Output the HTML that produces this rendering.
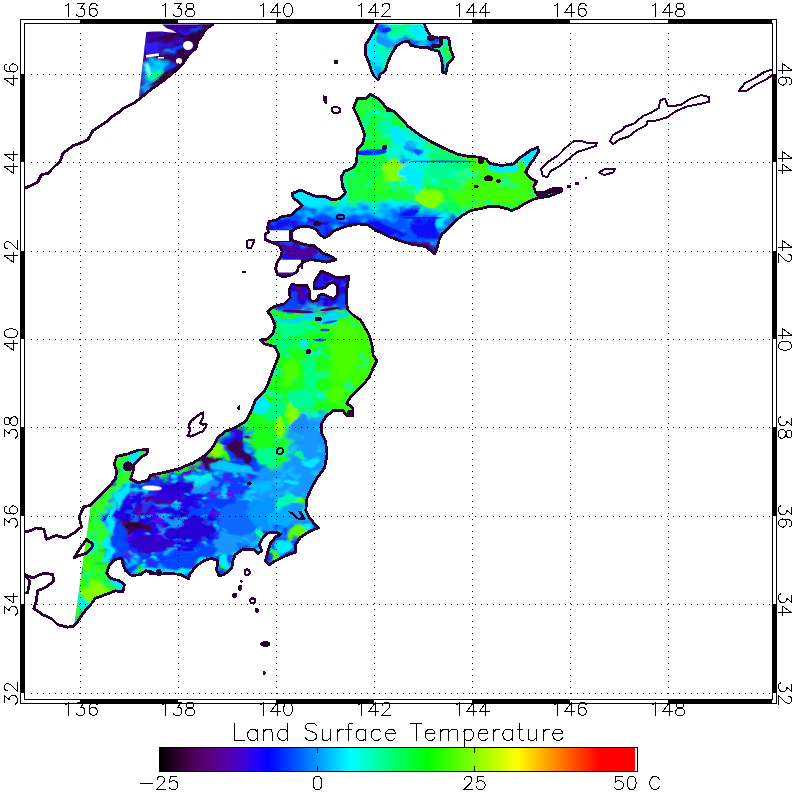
<!DOCTYPE html><html><head><meta charset="utf-8"><title>Land Surface Temperature</title>
<style>html,body{margin:0;padding:0;background:#fff;font-family:"Liberation Sans",sans-serif}svg{display:block}</style></head><body>
<svg width="796" height="796" viewBox="0 0 796 796">
<rect width="796" height="796" fill="#fff"/>
<defs>
<linearGradient id="cb" x1="0" y1="0" x2="1" y2="0">
<stop offset="0.0000" stop-color="#000000"/>
<stop offset="0.0314" stop-color="#240022"/>
<stop offset="0.0549" stop-color="#400044"/>
<stop offset="0.0824" stop-color="#500064"/>
<stop offset="0.1098" stop-color="#580084"/>
<stop offset="0.1333" stop-color="#5400a3"/>
<stop offset="0.1608" stop-color="#4700c3"/>
<stop offset="0.1843" stop-color="#3500e3"/>
<stop offset="0.2078" stop-color="#1900ff"/>
<stop offset="0.2275" stop-color="#0000ff"/>
<stop offset="0.3137" stop-color="#0080ff"/>
<stop offset="0.4000" stop-color="#00ffff"/>
<stop offset="0.4784" stop-color="#00ff83"/>
<stop offset="0.5608" stop-color="#00ff00"/>
<stop offset="0.6549" stop-color="#80ff00"/>
<stop offset="0.7490" stop-color="#ffff00"/>
<stop offset="0.8353" stop-color="#ff8000"/>
<stop offset="0.9216" stop-color="#ff0000"/>
<stop offset="0.9961" stop-color="#ff0000"/>
</linearGradient>
<filter id="bl8" x="-20%" y="-20%" width="140%" height="140%"><feGaussianBlur stdDeviation="3" result="b"/><feTurbulence type="fractalNoise" baseFrequency="0.06 0.09" numOctaves="2" seed="5" result="t"/><feDisplacementMap in="b" in2="t" scale="28" xChannelSelector="R" yChannelSelector="G"/></filter><filter id="bl4" x="-20%" y="-20%" width="140%" height="140%"><feGaussianBlur stdDeviation="1.3" result="b"/><feTurbulence type="fractalNoise" baseFrequency="0.06 0.09" numOctaves="2" seed="11" result="t"/><feDisplacementMap in="b" in2="t" scale="15" xChannelSelector="R" yChannelSelector="G"/></filter><filter id="bl2" x="-20%" y="-20%" width="140%" height="140%"><feGaussianBlur stdDeviation="0.7"/></filter><filter id="mot" x="0" y="0" width="100%" height="100%"><feTurbulence type="fractalNoise" baseFrequency="0.07 0.10" numOctaves="2" seed="7"/><feColorMatrix values="0 0 0 0 0  0 0 0 0 0.92  0 0 0 0 1  2.6 0 0 0 -1.35" result="m"/><feComposite in="m" in2="SourceGraphic" operator="in"/></filter><filter id="mot2" x="0" y="0" width="100%" height="100%"><feTurbulence type="fractalNoise" baseFrequency="0.06 0.10" numOctaves="2" seed="23"/><feColorMatrix values="0 0 0 0 0.2  0 0 0 0 0  0 0 0 0 0.8  0 3.0 0 0 -1.5" result="m"/><feComposite in="m" in2="SourceGraphic" operator="in"/></filter><filter id="mot3" x="0" y="0" width="100%" height="100%"><feTurbulence type="fractalNoise" baseFrequency="0.10 0.16" numOctaves="2" seed="41"/><feColorMatrix values="0 0 0 0 0  0 0 0 0 0.72  0 0 0 0 1  0 0 4.2 0 -2.33" result="m"/><feComposite in="m" in2="SourceGraphic" operator="in"/></filter><clipPath id="cp_hok"><path d="M370.6 94.4 L378.6 99.0 L386.7 108.0 L394.7 112.0 L400.8 118.0 L408.0 126.2 L420.0 135.2 L432.0 142.3 L444.0 148.3 L458.0 154.3 L468.0 156.3 L480.4 157.3 L486.4 159.3 L489.4 163.4 L500.5 165.4 L512.6 164.4 L520.6 157.3 L530.7 150.3 L537.7 147.3 L538.7 151.3 L533.7 159.3 L528.6 166.4 L525.6 172.4 L530.7 178.4 L536.7 181.5 L533.7 186.5 L535.7 192.5 L544.7 192.0 L552.8 188.5 L562.0 188.8 L562.0 191.0 L556.0 193.5 L548.7 196.5 L540.7 197.5 L532.7 199.5 L524.6 203.6 L518.6 207.6 L511.6 210.6 L506.5 208.6 L498.5 206.6 L488.4 206.6 L480.4 208.6 L470.4 210.6 L462.3 215.6 L454.3 221.7 L448.2 228.7 L442.2 233.7 L439.2 239.7 L437.2 247.7 L434.7 254.0 L425.9 246.5 L410.8 244.0 L398.2 240.2 L385.7 235.0 L375.6 230.0 L368.0 225.0 L358.0 223.9 L345.5 226.4 L333.0 231.4 L329.5 235.2 L324.6 237.7 L319.7 234.4 L316.5 229.5 L309.9 227.0 L301.8 226.2 L293.6 229.5 L291.1 233.6 L292.0 240.1 L298.5 242.6 L306.7 245.0 L314.0 245.8 L318.1 249.1 L323.0 253.2 L331.2 256.4 L336.0 259.7 L326.3 262.2 L318.1 260.5 L309.9 259.7 L303.4 262.2 L298.5 267.0 L296.9 272.0 L290.3 275.2 L283.0 276.9 L277.3 274.4 L275.6 268.7 L277.3 262.2 L280.5 257.3 L282.2 251.5 L278.9 245.0 L269.9 241.7 L265.0 239.3 L265.0 234.4 L268.3 232.0 L267.5 227.9 L269.1 221.3 L275.6 220.5 L282.2 216.4 L290.3 215.6 L296.9 209.9 L302.3 205.6 L293.2 197.5 L292.2 193.5 L300.3 190.0 L308.3 193.5 L316.3 196.5 L325.4 196.5 L332.4 200.0 L340.5 198.5 L345.5 192.5 L342.5 186.5 L341.5 176.4 L344.5 171.4 L353.5 167.4 L356.5 162.0 L357.5 149.0 L362.6 144.0 L364.6 135.0 L361.6 126.0 L357.5 116.0 L353.5 108.0 L357.5 98.0 L365.6 99.0Z"/></clipPath><clipPath id="cp_hon"><path d="M90.4 505.4 L97.9 497.8 L106.7 489.0 L115.5 479.0 L116.7 471.5 L114.2 464.0 L116.7 456.4 L128.0 453.9 L138.1 450.1 L148.1 449.6 L146.9 453.9 L140.6 457.6 L134.3 463.9 L133.0 471.5 L130.5 479.0 L138.0 482.8 L148.1 480.3 L150.6 475.2 L163.2 472.7 L178.3 469.0 L193.4 462.7 L205.9 455.0 L213.5 446.3 L217.8 437.7 L225.4 431.4 L235.4 427.6 L245.5 421.4 L250.5 412.6 L255.5 400.0 L264.0 392.0 L267.7 384.4 L271.5 374.3 L275.0 365.5 L279.0 355.5 L275.0 346.7 L265.0 344.0 L260.0 340.0 L267.7 339.0 L272.7 334.0 L275.2 325.3 L271.5 316.5 L267.7 311.5 L274.0 306.5 L284.0 304.0 L290.3 297.7 L289.0 290.0 L292.0 284.2 L298.5 285.8 L306.7 285.0 L309.1 290.0 L309.1 298.1 L312.4 301.4 L317.3 300.5 L318.9 295.6 L323.0 294.0 L329.5 297.3 L334.4 298.9 L337.7 294.0 L337.7 285.8 L334.4 282.6 L329.5 283.4 L324.6 287.5 L318.9 289.1 L314.0 288.3 L314.0 283.4 L317.3 276.9 L321.4 271.1 L329.5 274.4 L336.0 277.7 L342.6 277.7 L349.1 276.0 L347.5 283.4 L346.7 293.2 L346.7 303.0 L347.5 309.5 L353.0 315.0 L360.6 320.0 L365.7 329.0 L369.4 335.4 L372.0 345.4 L373.2 355.5 L377.0 360.5 L373.2 368.0 L369.4 376.8 L363.2 384.4 L356.9 390.6 L350.6 397.0 L346.8 403.2 L353.0 408.0 L353.0 415.8 L346.8 415.8 L343.0 410.7 L333.0 410.7 L325.5 417.0 L321.7 423.3 L321.7 433.4 L325.5 441.0 L327.1 454.0 L324.6 467.8 L317.1 477.9 L312.1 486.7 L307.0 498.0 L305.8 510.6 L309.5 518.0 L318.3 528.0 L310.8 530.7 L300.8 537.0 L295.7 544.5 L295.7 552.0 L285.7 555.8 L275.6 560.8 L269.3 564.6 L265.6 560.8 L268.1 550.8 L270.6 543.2 L275.6 537.0 L280.7 534.4 L275.6 532.0 L266.8 533.2 L261.8 539.4 L259.3 544.5 L261.8 550.8 L258.0 553.3 L254.3 549.5 L243.0 549.5 L235.4 554.5 L232.9 560.8 L231.7 568.3 L224.1 574.6 L219.1 575.9 L216.6 569.6 L217.8 560.8 L211.6 558.3 L204.0 560.8 L196.5 565.8 L190.2 573.4 L188.5 579.0 L180.8 574.5 L168.2 573.2 L158.2 574.5 L151.9 572.0 L145.6 570.7 L140.6 574.5 L131.8 575.7 L125.5 570.7 L123.0 564.4 L121.8 558.0 L115.5 559.4 L109.2 565.7 L106.7 573.2 L110.5 578.2 L119.2 580.8 L124.3 584.5 L123.0 592.0 L115.5 590.8 L105.4 594.6 L95.4 598.3 L91.6 603.4 L84.0 612.2 L79.0 619.7 L74.0 626.0 L90.4 508.0Z"/></clipPath><clipPath id="cp_sak"><path d="M377.3 24.4 L373.3 32.0 L369.3 39.0 L365.3 45.0 L365.3 54.0 L368.3 61.2 L371.3 70.3 L374.3 76.3 L378.0 80.0 L380.4 74.3 L385.4 70.3 L387.4 63.2 L391.4 54.2 L396.4 46.1 L402.5 42.1 L408.5 41.1 L410.5 45.1 L418.5 47.1 L426.6 47.1 L430.6 49.1 L438.6 51.2 L441.7 59.2 L442.7 72.3 L445.7 73.3 L447.7 64.2 L453.7 57.2 L450.7 50.2 L448.7 38.1 L443.7 37.1 L438.6 38.1 L430.6 36.1 L426.6 30.0 L424.6 24.4Z"/></clipPath><clipPath id="cp_sw"><path d="M146.3 32.0 L154.0 31.5 L162.0 31.5 L170.0 32.5 L177.0 33.0 L172.0 30.0 L167.0 28.5 L162.0 24.5 L213.0 24.5 L205.5 29.4 L202.7 35.0 L198.0 40.7 L196.0 48.3 L188.6 54.9 L183.0 63.3 L175.4 70.9 L164.0 80.3 L154.6 86.9 L147.0 92.5 L140.5 98.2 L139.0 96.0Z"/></clipPath>
</defs>
<g clip-path="url(#cp_sw)"><rect x="130" y="20" width="100" height="90" fill="#3a0096"/><g filter="url(#bl8)"><path d="M146.0 60.0 L172.0 60.0 L170.0 72.0 L160.0 84.0 L140.0 98.0 L138.0 95.0Z" fill="#00c8ff"/><path d="M146.0 36.0 L165.0 36.0 L166.0 52.0 L146.0 54.0Z" fill="#2d1ef5"/></g><g filter="url(#bl4)"><path d="M200.0 20.0 L215.0 20.0 L198.0 40.7 L196.0 48.3 L188.6 54.9 L183.0 63.3 L175.4 70.9 L164.0 80.3 L147.0 92.5 L140.0 98.0 L150.0 84.0 L160.0 75.0 L169.0 66.0 L176.0 57.0 L181.0 50.0 L187.0 43.0 L189.0 36.0 L194.0 28.0Z" fill="#30003e"/><ellipse cx="152" cy="75" rx="9" ry="4" fill="#00ff96" transform="rotate(-20 152 75)"/><ellipse cx="146" cy="70" rx="4" ry="6" fill="#78ffe6"/><ellipse cx="170" cy="49.5" rx="8" ry="2" fill="#1696ff" transform="rotate(-5 170 49.5)"/><ellipse cx="178" cy="47" rx="8" ry="2.5" fill="#0046ff" transform="rotate(-10 178 47)"/><ellipse cx="170" cy="67" rx="8" ry="3" fill="#0046ff" transform="rotate(-30 170 67)"/><ellipse cx="157" cy="88" rx="9" ry="3.5" fill="#0046ff" transform="rotate(-38 157 88)"/><ellipse cx="176" cy="37" rx="20" ry="2.8" fill="#320046"/><ellipse cx="170" cy="58" rx="16" ry="2.8" fill="#320046" transform="rotate(5 170 58)"/><ellipse cx="196" cy="29" rx="7" ry="2.5" fill="#0046ff" transform="rotate(-25 196 29)"/><ellipse cx="158" cy="41" rx="9" ry="2.5" fill="#3c0078"/><ellipse cx="146" cy="88" rx="4" ry="6" fill="#1696ff"/><ellipse cx="185" cy="33" rx="6" ry="2" fill="#2814f0" transform="rotate(-10 185 33)"/></g><ellipse cx="188" cy="45.5" rx="5" ry="4.5" fill="#fff"/><ellipse cx="179" cy="61" rx="3" ry="3" fill="#fff"/><rect x="146" y="54.5" width="13" height="2.5" fill="#fff" transform="rotate(-8 150 56)"/><rect x="158" y="57" width="6" height="1.5" fill="#fff"/></g><g clip-path="url(#cp_sak)"><rect x="360" y="20" width="100" height="70" fill="#00ffaa"/><g filter="url(#bl4)"><ellipse cx="382" cy="28" rx="8" ry="7" fill="#0a28ff"/><ellipse cx="386" cy="40" rx="8" ry="8" fill="#1696ff"/><ellipse cx="372" cy="50" rx="6" ry="12" fill="#00ebff"/><ellipse cx="376" cy="68" rx="5" ry="8" fill="#00aaff"/><ellipse cx="379" cy="76" rx="3" ry="3" fill="#0046ff"/><ellipse cx="412" cy="43" rx="18" ry="3.5" fill="#005aff" transform="rotate(10 412 43)"/><ellipse cx="398" cy="44" rx="5" ry="6" fill="#1696ff" transform="rotate(40 398 44)"/><ellipse cx="432" cy="43" rx="6" ry="5" fill="#0046ff"/><ellipse cx="378" cy="60" rx="5" ry="6" fill="#00ebff"/><ellipse cx="448" cy="52" rx="3.5" ry="10" fill="#1eff3c"/><ellipse cx="443" cy="62" rx="2.2" ry="7" fill="#1696ff"/><ellipse cx="400" cy="31" rx="14" ry="6" fill="#00ff8c"/><ellipse cx="420" cy="32" rx="8" ry="6" fill="#00ebff"/></g><rect x="360" y="20" width="100" height="70" filter="url(#mot)"/></g><g clip-path="url(#cp_hok)"><rect x="260" y="90" width="310" height="190" fill="#00ff5a"/><g filter="url(#bl8)"><path d="M340.0 90.0 L420.0 120.0 L545.0 150.0 L545.0 200.0 L470.0 214.0 L440.0 206.0 L400.0 202.0 L350.0 206.0 L340.0 200.0 L335.0 170.0Z" fill="#19ff37"/><path d="M455.0 150.0 L545.0 140.0 L545.0 200.0 L520.0 210.0 L470.0 212.0 L455.0 190.0Z" fill="#41ff05"/><ellipse cx="408" cy="152" rx="20" ry="26" fill="#00fabe"/><ellipse cx="412" cy="165" rx="14" ry="24" fill="#00f5eb"/><ellipse cx="445" cy="172" rx="26" ry="10" fill="#00ff96" transform="rotate(5 445 172)"/><path d="M285.0 185.0 L345.0 190.0 L345.0 206.0 L300.0 212.0 L285.0 205.0Z" fill="#00ebff"/><path d="M260.0 212.0 L300.0 206.0 L345.0 209.0 L400.0 206.0 L445.0 212.0 L455.0 222.0 L440.0 260.0 L330.0 262.0 L260.0 262.0Z" fill="#0055ff"/><path d="M330.0 206.0 L400.0 204.0 L445.0 209.0 L445.0 214.0 L400.0 212.0 L330.0 213.0Z" fill="#00c8ff"/><path d="M255.0 225.0 L330.0 222.0 L345.0 265.0 L255.0 285.0Z" fill="#1e0aeb"/></g><rect x="260" y="90" width="310" height="190" filter="url(#mot)"/><g filter="url(#bl4)"><ellipse cx="396" cy="169" rx="15" ry="10" fill="#82ff00"/><ellipse cx="430" cy="198" rx="16" ry="9" fill="#82ff00"/><ellipse cx="412" cy="148" rx="6" ry="5" fill="#1696ff"/><ellipse cx="402" cy="160" rx="5" ry="4" fill="#1696ff"/><ellipse cx="418" cy="151" rx="5" ry="3" fill="#0046ff"/><ellipse cx="408" cy="172" rx="7" ry="9" fill="#00ebff"/><ellipse cx="404" cy="140" rx="5" ry="8" fill="#00ebff"/><ellipse cx="395" cy="135" rx="6" ry="8" fill="#00ebff"/><ellipse cx="420" cy="130" rx="8" ry="5" fill="#00ebff" transform="rotate(20 420 130)"/><ellipse cx="385" cy="125" rx="6" ry="8" fill="#00faa0"/><ellipse cx="530" cy="156" rx="8" ry="10" fill="#00ebff" transform="rotate(-40 530 156)"/><ellipse cx="505" cy="168" rx="14" ry="4" fill="#00ebff"/><ellipse cx="416" cy="178" rx="9" ry="8" fill="#00ebff"/><ellipse cx="440" cy="170" rx="12" ry="6" fill="#00fa96"/><ellipse cx="380" cy="185" rx="10" ry="10" fill="#28ff28"/><ellipse cx="410" cy="212" rx="10" ry="5" fill="#0c0ff8"/><ellipse cx="425" cy="228" rx="16" ry="10" fill="#0c0ff8"/><ellipse cx="420" cy="246" rx="22" ry="3.5" fill="#500096" transform="rotate(8 420 246)"/><ellipse cx="385" cy="230" rx="20" ry="5" fill="#0c0ff8" transform="rotate(12 385 230)"/><ellipse cx="355" cy="224" rx="15" ry="3" fill="#0c0ff8"/><ellipse cx="318" cy="223" rx="10" ry="3" fill="#2d00de"/><ellipse cx="300" cy="234" rx="26" ry="7" fill="#0046ff" transform="rotate(-14 300 234)"/><ellipse cx="283" cy="224" rx="12" ry="5" fill="#0c0ff8" transform="rotate(-20 283 224)"/><ellipse cx="298" cy="251" rx="20" ry="6" fill="#500096" transform="rotate(18 298 251)"/><ellipse cx="325" cy="258" rx="10" ry="4" fill="#0046ff" transform="rotate(15 325 258)"/><ellipse cx="283" cy="270" rx="10" ry="8" fill="#500096"/><ellipse cx="272" cy="244" rx="6" ry="3" fill="#500096"/><ellipse cx="443" cy="222" rx="5" ry="8" fill="#00ebff" transform="rotate(20 443 222)"/><ellipse cx="306" cy="196" rx="8" ry="4" fill="#00ebff"/><ellipse cx="340" cy="185" rx="6" ry="10" fill="#00ff8c"/><ellipse cx="365" cy="105" rx="8" ry="8" fill="#28ff3c"/><ellipse cx="450" cy="160" rx="20" ry="6" fill="#00fa78" transform="rotate(15 450 160)"/><ellipse cx="335" cy="201" rx="8" ry="4" fill="#1eff14"/></g><g filter="url(#bl2)"><ellipse cx="422" cy="217.8" rx="22" ry="0.9" fill="#0c0ff8"/><ellipse cx="443" cy="161.4" rx="33" ry="0.8" fill="#0046ff"/><ellipse cx="372" cy="152.3" rx="15" ry="3.2" fill="#0064ff" transform="rotate(-3 372 152.3)"/><ellipse cx="365" cy="153" rx="8" ry="2.2" fill="#0528fa" transform="rotate(-3 365 153)"/><ellipse cx="380" cy="151.5" rx="6" ry="2" fill="#0532fa" transform="rotate(-3 380 151.5)"/></g><rect x="266.6" y="230.3" width="23" height="11.4" fill="#fff"/><path d="M277.3 259.7H301.8V269L296 272.5H277.3Z" fill="#fff"/></g><g clip-path="url(#cp_hon)"><rect x="60" y="265" width="330" height="370" fill="#083cfc"/><g filter="url(#bl8)"><path d="M255.0 313.0 L380.0 306.0 L385.0 420.0 L325.0 420.0 L305.0 414.0 L291.0 435.0 L289.0 464.0 L262.0 467.0 L250.0 448.0 L240.0 430.0 L222.0 442.0 L208.0 455.0 L212.0 440.0 L235.0 420.0 L250.0 395.0Z" fill="#1eff14"/><path d="M330.0 318.0 L385.0 318.0 L385.0 400.0 L345.0 408.0 L330.0 380.0Z" fill="#3cff05"/><path d="M305.0 414.0 L326.0 418.0 L332.0 470.0 L314.0 520.0 L322.0 532.0 L300.0 540.0 L280.0 530.0 L262.0 530.0 L250.0 548.0 L232.0 552.0 L214.0 556.0 L220.0 535.0 L245.0 500.0 L262.0 470.0 L289.0 464.0 L291.0 435.0Z" fill="#1696ff"/><path d="M86.0 500.0 L100.0 490.0 L116.0 478.0 L112.0 452.0 L152.0 446.0 L150.0 456.0 L137.0 470.0 L131.0 483.0 L119.0 498.0 L112.0 520.0 L107.0 545.0 L105.0 560.0 L112.0 576.0 L128.0 592.0 L100.0 602.0 L70.0 632.0 L68.0 625.0Z" fill="#2dff1e"/><path d="M280.0 265.0 L355.0 265.0 L352.0 309.0 L268.0 313.0Z" fill="#2800d7"/><ellipse cx="160" cy="520" rx="55" ry="35" fill="#1a04e8"/></g><rect x="60" y="265" width="330" height="370" filter="url(#mot)"/><path d="M118 490L150 478L215 452L235 440L255 470L240 500L215 540L205 560L130 565L112 540Z" filter="url(#mot2)"/><path d="M112 490L150 478L215 452L250 470L262 500L240 545L205 562L130 567L108 540Z" filter="url(#mot3)"/><g filter="url(#bl4)"><ellipse cx="312" cy="318" rx="40" ry="4" fill="#00d7ff" transform="rotate(-4 312 318)"/><ellipse cx="295" cy="330" rx="22" ry="6" fill="#00ff8c"/><ellipse cx="311" cy="380" rx="6" ry="24" fill="#00ff82"/><ellipse cx="304" cy="344" rx="5" ry="2.5" fill="#00f0e6"/><ellipse cx="285" cy="345" rx="8" ry="10" fill="#00fa78"/><ellipse cx="300" cy="400" rx="12" ry="10" fill="#00fa96"/><ellipse cx="345" cy="350" rx="14" ry="25" fill="#46ff00"/><ellipse cx="335" cy="395" rx="10" ry="8" fill="#46ff00"/><ellipse cx="290" cy="372" rx="8" ry="14" fill="#46ff00"/><ellipse cx="292" cy="414" rx="6" ry="10" fill="#82ff00"/><ellipse cx="275" cy="412" rx="10" ry="12" fill="#00fa82"/><ellipse cx="260" cy="405" rx="8" ry="10" fill="#00ebff"/><ellipse cx="262" cy="440" rx="10" ry="10" fill="#1eff14"/><ellipse cx="270" cy="455" rx="12" ry="8" fill="#00ff8c"/><ellipse cx="280" cy="428" rx="5" ry="8" fill="#82ff00"/><ellipse cx="234.5" cy="445.5" rx="13" ry="6.5" fill="#3e0050" transform="rotate(48 234.5 445.5)"/><ellipse cx="247" cy="459" rx="7.5" ry="4.5" fill="#3e0050" transform="rotate(52 247 459)"/><ellipse cx="248.5" cy="439.5" rx="5" ry="2.5" fill="#500096" transform="rotate(20 248.5 439.5)"/><ellipse cx="208.5" cy="462.5" rx="8.5" ry="4.5" fill="#3e0050" transform="rotate(15 208.5 462.5)"/><ellipse cx="218" cy="451" rx="8" ry="7" fill="#82ff00" transform="rotate(-30 218 451)"/><ellipse cx="222" cy="458" rx="5" ry="3" fill="#1eff14"/><ellipse cx="246" cy="434" rx="12" ry="3.5" fill="#00aaff" transform="rotate(-15 246 434)"/><ellipse cx="232" cy="433" rx="5" ry="2.5" fill="#0046ff" transform="rotate(-15 232 433)"/><ellipse cx="226" cy="440" rx="5" ry="5" fill="#1414f0"/><ellipse cx="186" cy="468.5" rx="14" ry="2.5" fill="#1eff14" transform="rotate(-14 186 468.5)"/><ellipse cx="159" cy="476" rx="9" ry="5" fill="#1eff14" transform="rotate(-15 159 476)"/><ellipse cx="187" cy="478" rx="4" ry="2.5" fill="#1eff14"/><ellipse cx="206" cy="475" rx="4" ry="2.5" fill="#1eff14"/><ellipse cx="195" cy="487" rx="5" ry="4" fill="#5aff14"/><ellipse cx="200" cy="480" rx="14" ry="6" fill="#00ebff"/><ellipse cx="232" cy="468" rx="22" ry="5" fill="#00c8ff" transform="rotate(5 232 468)"/><ellipse cx="192" cy="470" rx="8" ry="1.8" fill="#500096" transform="rotate(-12 192 470)"/><ellipse cx="246" cy="501" rx="9" ry="3" fill="#00ebff"/><ellipse cx="246.5" cy="503" rx="3" ry="2" fill="#1eff14"/><ellipse cx="169" cy="520" rx="5" ry="2.5" fill="#00ebff"/><ellipse cx="185" cy="519" rx="4" ry="1.5" fill="#00ebff"/><ellipse cx="205" cy="522" rx="4" ry="1.5" fill="#00ebff"/><ellipse cx="164" cy="497" rx="14" ry="6" fill="#3c0087"/><ellipse cx="135.6" cy="526.7" rx="17" ry="5.5" fill="#3e0050" transform="rotate(3 135.6 526.7)"/><ellipse cx="133" cy="526" rx="8" ry="2" fill="#23002d"/><ellipse cx="158" cy="499" rx="15" ry="6" fill="#460096" transform="rotate(10 158 499)"/><ellipse cx="143" cy="508" rx="10" ry="4" fill="#4600aa"/><ellipse cx="210" cy="459" rx="10" ry="4" fill="#3e0050" transform="rotate(25 210 459)"/><ellipse cx="157" cy="478" rx="7" ry="3" fill="#500096" transform="rotate(20 157 478)"/><ellipse cx="176" cy="497" rx="6" ry="5" fill="#500096"/><ellipse cx="178" cy="488" rx="18" ry="7" fill="#2300d7" transform="rotate(-5 178 488)"/><ellipse cx="165" cy="495" rx="14" ry="6" fill="#2d00de"/><ellipse cx="153" cy="544" rx="22" ry="8" fill="#3200c8"/><ellipse cx="190" cy="530" rx="25" ry="10" fill="#2800d7" transform="rotate(-5 190 530)"/><ellipse cx="120" cy="540" rx="8" ry="18" fill="#0046ff"/><ellipse cx="168" cy="519" rx="13" ry="3" fill="#1696ff" transform="rotate(10 168 519)"/><ellipse cx="169" cy="555" rx="7" ry="4" fill="#00ebff"/><ellipse cx="206" cy="487" rx="14" ry="4" fill="#1696ff" transform="rotate(-25 206 487)"/><ellipse cx="150" cy="505" rx="6" ry="3" fill="#0046ff"/><ellipse cx="200" cy="512" rx="14" ry="5" fill="#0046ff" transform="rotate(-20 200 512)"/><ellipse cx="240" cy="518" rx="22" ry="18" fill="#0a69ff"/><ellipse cx="262" cy="512" rx="14" ry="14" fill="#0596ff"/><ellipse cx="280" cy="520" rx="12" ry="10" fill="#00afff"/><ellipse cx="262" cy="548" rx="6" ry="4" fill="#00ebff"/><ellipse cx="225" cy="545" rx="12" ry="8" fill="#1696ff" transform="rotate(-30 225 545)"/><ellipse cx="205" cy="550" rx="12" ry="6" fill="#0046ff"/><ellipse cx="180" cy="560" rx="20" ry="8" fill="#0046ff"/><ellipse cx="132" cy="463" rx="8" ry="10" fill="#00ebff"/><ellipse cx="124" cy="457" rx="7" ry="4" fill="#1eff14"/><ellipse cx="142" cy="452" rx="6" ry="3" fill="#1eff14"/><ellipse cx="122" cy="495" rx="5" ry="14" fill="#00ebff" transform="rotate(25 122 495)"/><ellipse cx="110" cy="520" rx="4" ry="16" fill="#00ebff" transform="rotate(8 110 520)"/><ellipse cx="107" cy="550" rx="4" ry="12" fill="#00ebff"/><ellipse cx="118" cy="578" rx="6" ry="14" fill="#00ebff" transform="rotate(-20 118 578)"/><ellipse cx="95" cy="592" rx="12" ry="10" fill="#82ff00"/><ellipse cx="84" cy="545" rx="5" ry="30" fill="#46ff00" transform="rotate(-8 84 545)"/><ellipse cx="100" cy="480" rx="5" ry="10" fill="#46ff00" transform="rotate(40 100 480)"/><ellipse cx="160" cy="572" rx="32" ry="3.5" fill="#00ebff"/><ellipse cx="170" cy="575.5" rx="12" ry="2" fill="#00ff64"/><ellipse cx="140" cy="572" rx="6" ry="3" fill="#1eff14"/><ellipse cx="205" cy="561" rx="10" ry="4" fill="#00ebff" transform="rotate(-30 205 561)"/><ellipse cx="225" cy="564" rx="7" ry="10" fill="#00ebff"/><ellipse cx="222" cy="570" rx="3" ry="4" fill="#1eff14"/><ellipse cx="244" cy="553" rx="12" ry="3.5" fill="#00ebff"/><ellipse cx="285" cy="547" rx="10" ry="7" fill="#00ebff" transform="rotate(-30 285 547)"/><ellipse cx="301" cy="530.5" rx="14" ry="3.5" fill="#5aff00" transform="rotate(-38 301 530.5)"/><ellipse cx="297" cy="500.5" rx="8" ry="5.5" fill="#46ff00" transform="rotate(-15 297 500.5)"/><ellipse cx="287" cy="500" rx="12" ry="8" fill="#00fab4"/><ellipse cx="273" cy="556" rx="4.5" ry="6" fill="#3cff14"/><ellipse cx="270" cy="545" rx="3" ry="6" fill="#00ebff"/><ellipse cx="258" cy="535" rx="6" ry="5" fill="#00ffaa"/><ellipse cx="308" cy="524" rx="5" ry="3" fill="#00ebff" transform="rotate(-30 308 524)"/><ellipse cx="298" cy="454" rx="6" ry="4" fill="#00fa96"/><ellipse cx="311" cy="461" rx="10" ry="3.5" fill="#00ebff"/><ellipse cx="292" cy="483" rx="9" ry="3" fill="#00ebff"/><ellipse cx="262" cy="487" rx="12" ry="4" fill="#00beff"/><ellipse cx="310" cy="440" rx="8" ry="14" fill="#1996ff"/><ellipse cx="300" cy="425" rx="8" ry="8" fill="#148cff"/><ellipse cx="92" cy="611" rx="5" ry="13" fill="#00ebff" transform="rotate(-32 92 611)"/><ellipse cx="84" cy="619" rx="3.5" ry="8" fill="#1696ff" transform="rotate(-32 84 619)"/><ellipse cx="80" cy="600" rx="3" ry="10" fill="#00ebff" transform="rotate(-8 80 600)"/><ellipse cx="285" cy="300" rx="12" ry="9" fill="#0046ff"/><ellipse cx="330" cy="277" rx="12" ry="5" fill="#2d00de"/><ellipse cx="341" cy="300" rx="4" ry="8" fill="#0046ff"/><ellipse cx="300" cy="292" rx="6" ry="6" fill="#500096"/><ellipse cx="318" cy="283" rx="4" ry="8" fill="#1e14eb" transform="rotate(30 318 283)"/><ellipse cx="238" cy="436" rx="6" ry="8" fill="#2d00de"/></g><g filter="url(#bl2)"><ellipse cx="298" cy="311.5" rx="16" ry="1.6" fill="#460078" transform="rotate(3 298 311.5)"/><ellipse cx="330" cy="309" rx="10" ry="1.4" fill="#460078" transform="rotate(-8 330 309)"/><ellipse cx="152" cy="488" rx="10" ry="2.5" fill="#ffffff" transform="rotate(3 152 488)"/><ellipse cx="320" cy="340" rx="6" ry="1.5" fill="#0046ff"/><ellipse cx="325" cy="330" rx="5" ry="1.2" fill="#0046ff"/><ellipse cx="330" cy="322" rx="8" ry="1.2" fill="#0046ff" transform="rotate(-10 330 322)"/></g></g><g fill="none" stroke="#2b0033" stroke-width="2.8" stroke-linejoin="round" stroke-linecap="round" shape-rendering="crispEdges"><path d="M213.0 24.5 L205.5 29.4 L202.7 35.0 L198.0 40.7 L196.0 48.3 L188.6 54.9 L183.0 63.3 L175.4 70.9 L164.0 80.3 L154.6 86.9 L147.0 92.5 L140.5 98.2 L134.0 103.0 L124.5 107.6 L118.8 112.3 L111.3 117.0 L108.0 120.6 L100.5 125.6 L93.0 130.7 L88.0 139.4 L80.4 143.2 L73.0 145.7 L62.8 153.3 L60.3 160.8 L54.0 167.0 L47.7 173.4 L41.5 174.6 L37.7 182.2 L30.0 186.0 L25.0 188.0"/><path d="M377.3 24.4 L373.3 32.0 L369.3 39.0 L365.3 45.0 L365.3 54.0 L368.3 61.2 L371.3 70.3 L374.3 76.3 L378.0 80.0 L380.4 74.3 L385.4 70.3 L387.4 63.2 L391.4 54.2 L396.4 46.1 L402.5 42.1 L408.5 41.1 L410.5 45.1 L418.5 47.1 L426.6 47.1 L430.6 49.1 L438.6 51.2 L441.7 59.2 L442.7 72.3 L445.7 73.3 L447.7 64.2 L453.7 57.2 L450.7 50.2 L448.7 38.1 L443.7 37.1 L438.6 38.1 L430.6 36.1 L426.6 30.0 L424.6 24.4"/><path d="M370.6 94.4 L378.6 99.0 L386.7 108.0 L394.7 112.0 L400.8 118.0 L408.0 126.2 L420.0 135.2 L432.0 142.3 L444.0 148.3 L458.0 154.3 L468.0 156.3 L480.4 157.3 L486.4 159.3 L489.4 163.4 L500.5 165.4 L512.6 164.4 L520.6 157.3 L530.7 150.3 L537.7 147.3 L538.7 151.3 L533.7 159.3 L528.6 166.4 L525.6 172.4 L530.7 178.4 L536.7 181.5 L533.7 186.5 L535.7 192.5 L544.7 192.0 L552.8 188.5 L562.0 188.8 L562.0 191.0 L556.0 193.5 L548.7 196.5 L540.7 197.5 L532.7 199.5 L524.6 203.6 L518.6 207.6 L511.6 210.6 L506.5 208.6 L498.5 206.6 L488.4 206.6 L480.4 208.6 L470.4 210.6 L462.3 215.6 L454.3 221.7 L448.2 228.7 L442.2 233.7 L439.2 239.7 L437.2 247.7 L434.7 254.0 L425.9 246.5 L410.8 244.0 L398.2 240.2 L385.7 235.0 L375.6 230.0 L368.0 225.0 L358.0 223.9 L345.5 226.4 L333.0 231.4 L329.5 235.2 L324.6 237.7 L319.7 234.4 L316.5 229.5 L309.9 227.0 L301.8 226.2 L293.6 229.5 L291.1 233.6 L292.0 240.1 L298.5 242.6 L306.7 245.0 L314.0 245.8 L318.1 249.1 L323.0 253.2 L331.2 256.4 L336.0 259.7 L326.3 262.2 L318.1 260.5 L309.9 259.7 L303.4 262.2 L298.5 267.0 L296.9 272.0 L290.3 275.2 L283.0 276.9 L277.3 274.4 L275.6 268.7 L277.3 262.2 L280.5 257.3 L282.2 251.5 L278.9 245.0 L269.9 241.7 L265.0 239.3 L265.0 234.4 L268.3 232.0 L267.5 227.9 L269.1 221.3 L275.6 220.5 L282.2 216.4 L290.3 215.6 L296.9 209.9 L302.3 205.6 L293.2 197.5 L292.2 193.5 L300.3 190.0 L308.3 193.5 L316.3 196.5 L325.4 196.5 L332.4 200.0 L340.5 198.5 L345.5 192.5 L342.5 186.5 L341.5 176.4 L344.5 171.4 L353.5 167.4 L356.5 162.0 L357.5 149.0 L362.6 144.0 L364.6 135.0 L361.6 126.0 L357.5 116.0 L353.5 108.0 L357.5 98.0 L365.6 99.0Z"/><path d="M90.4 505.4 L97.9 497.8 L106.7 489.0 L115.5 479.0 L116.7 471.5 L114.2 464.0 L116.7 456.4 L128.0 453.9 L138.1 450.1 L148.1 449.6 L146.9 453.9 L140.6 457.6 L134.3 463.9 L133.0 471.5 L130.5 479.0 L138.0 482.8 L148.1 480.3 L150.6 475.2 L163.2 472.7 L178.3 469.0 L193.4 462.7 L205.9 455.0 L213.5 446.3 L217.8 437.7 L225.4 431.4 L235.4 427.6 L245.5 421.4 L250.5 412.6 L255.5 400.0 L264.0 392.0 L267.7 384.4 L271.5 374.3 L275.0 365.5 L279.0 355.5 L275.0 346.7 L265.0 344.0 L260.0 340.0 L267.7 339.0 L272.7 334.0 L275.2 325.3 L271.5 316.5 L267.7 311.5 L274.0 306.5 L284.0 304.0 L290.3 297.7 L289.0 290.0 L292.0 284.2 L298.5 285.8 L306.7 285.0 L309.1 290.0 L309.1 298.1 L312.4 301.4 L317.3 300.5 L318.9 295.6 L323.0 294.0 L329.5 297.3 L334.4 298.9 L337.7 294.0 L337.7 285.8 L334.4 282.6 L329.5 283.4 L324.6 287.5 L318.9 289.1 L314.0 288.3 L314.0 283.4 L317.3 276.9 L321.4 271.1 L329.5 274.4 L336.0 277.7 L342.6 277.7 L349.1 276.0 L347.5 283.4 L346.7 293.2 L346.7 303.0 L347.5 309.5 L353.0 315.0 L360.6 320.0 L365.7 329.0 L369.4 335.4 L372.0 345.4 L373.2 355.5 L377.0 360.5 L373.2 368.0 L369.4 376.8 L363.2 384.4 L356.9 390.6 L350.6 397.0 L346.8 403.2 L353.0 408.0 L353.0 415.8 L346.8 415.8 L343.0 410.7 L333.0 410.7 L325.5 417.0 L321.7 423.3 L321.7 433.4 L325.5 441.0 L327.1 454.0 L324.6 467.8 L317.1 477.9 L312.1 486.7 L307.0 498.0 L305.8 510.6 L309.5 518.0 L318.3 528.0 L310.8 530.7 L300.8 537.0 L295.7 544.5 L295.7 552.0 L285.7 555.8 L275.6 560.8 L269.3 564.6 L265.6 560.8 L268.1 550.8 L270.6 543.2 L275.6 537.0 L280.7 534.4 L275.6 532.0 L266.8 533.2 L261.8 539.4 L259.3 544.5 L261.8 550.8 L258.0 553.3 L254.3 549.5 L243.0 549.5 L235.4 554.5 L232.9 560.8 L231.7 568.3 L224.1 574.6 L219.1 575.9 L216.6 569.6 L217.8 560.8 L211.6 558.3 L204.0 560.8 L196.5 565.8 L190.2 573.4 L188.5 579.0 L180.8 574.5 L168.2 573.2 L158.2 574.5 L151.9 572.0 L145.6 570.7 L140.6 574.5 L131.8 575.7 L125.5 570.7 L123.0 564.4 L121.8 558.0 L115.5 559.4 L109.2 565.7 L106.7 573.2 L110.5 578.2 L119.2 580.8 L124.3 584.5 L123.0 592.0 L115.5 590.8 L105.4 594.6 L95.4 598.3 L91.6 603.4 L84.0 612.2 L79.0 619.7 L74.0 626.0"/><path d="M290 231V241.5H267" stroke-width="1.6"/><path d="M302 260V268" stroke-width="1.6"/></g><g fill="none" stroke="#2b0033" stroke-width="2.0" stroke-linejoin="round" stroke-linecap="round" shape-rendering="crispEdges"><path d="M90.4 505.4 L84.0 506.6 L79.0 516.7 L81.6 526.7 L74.0 533.0 L65.2 538.0 L56.4 535.5 L46.4 539.3 L43.9 529.2 L36.3 528.0 L27.5 531.8 L25.0 531.8" stroke-width="2.8"/><path d="M25.0 574.5 L32.6 578.0 L43.9 573.0 L52.7 574.5 L53.9 580.8 L46.4 587.0 L37.6 590.8 L36.3 600.9 L33.8 608.4 L42.6 614.7 L51.4 618.4 L57.7 624.7 L67.7 627.2 L74.0 626.0" stroke-width="2.8"/><path d="M25.0 576.0 L30.0 581.0 L27.5 593.0 L25.0 593.0" stroke-width="2.8"/><path d="M92.9 544.3 L86.6 539.3 L80.3 548.0 L74.0 558.0 L79.0 555.6 L86.6 553.0 L92.9 546.0" stroke-width="2.8"/><path d="M203.3 412.6 L200.2 413.8 L195.1 417.6 L190.7 421.4 L188.8 425.8 L190.1 429.5 L188.8 434.0 L187.6 435.8 L190.7 436.5 L195.1 434.6 L198.9 432.7 L202.7 431.4 L205.8 427.0 L206.4 423.9 L202.7 424.5 L200.2 423.3 L202.7 418.2Z" stroke-width="2.4"/><path d="M541.0 169.3 L548.8 161.5 L558.3 155.2 L566.0 147.4 L574.0 141.0 L581.8 141.0 L588.0 143.3 L596.9 142.7 L596.0 145.8 L586.5 149.0 L577.0 152.0 L569.3 158.4 L559.8 166.2 L550.4 171.0 L547.3 177.2 L542.6 175.6Z"/><path d="M599.0 172.5 L605.4 168.7 L614.8 168.7 L613.2 172.5 L603.8 175.0Z"/><path d="M610.0 141.0 L613.2 134.8 L622.6 130.0 L624.2 127.0 L633.6 123.8 L643.0 116.0 L651.0 112.8 L658.8 108.0 L660.3 100.3 L665.0 98.7 L668.2 106.5 L680.8 105.0 L690.2 98.7 L701.2 95.0 L709.0 97.0 L709.0 101.8 L699.6 104.0 L687.0 106.5 L676.0 111.2 L666.6 117.5 L655.6 120.7 L647.8 120.7 L646.2 125.4 L636.8 130.0 L629.0 136.4 L619.5 139.5 L613.2 144.2Z"/><path d="M738.9 90.8 L745.1 83.0 L754.6 78.3 L764.0 72.0 L773.0 69.5 L773.0 74.5 L765.6 79.8 L756.1 84.5 L746.7 90.8Z"/><path d="M247.0 241.0 L251.0 239.5 L254.4 240.0 L253.0 244.0 L251.0 248.0 L247.5 248.0Z"/><path d="M323.5 96.5 L326.5 97.0 L326.0 103.0 L324.5 101.0Z"/><path d="M332.0 108.0 L336.0 106.5 L340.0 108.5 L340.0 112.0 L336.0 113.5 L332.5 112.0Z"/><ellipse cx="340.5" cy="217" rx="3.5" ry="2.5"/><ellipse cx="280" cy="451" rx="3" ry="3"/><ellipse cx="247.2" cy="572.2" rx="2.5" ry="2.8"/><ellipse cx="252.7" cy="600.7" rx="2.5" ry="2.5"/></g><g fill="#2b0033" shape-rendering="crispEdges"><ellipse cx="336" cy="62" rx="2.2" ry="2"/><ellipse cx="388.7" cy="110" rx="3" ry="2.5"/><ellipse cx="384.7" cy="147.3" rx="2.6" ry="2.6"/><ellipse cx="317.3" cy="223.7" rx="4" ry="2.5"/><ellipse cx="488.4" cy="178.4" rx="4.5" ry="3"/><ellipse cx="498.5" cy="181" rx="2.5" ry="2"/><ellipse cx="476.4" cy="186.5" rx="2.5" ry="1.5"/><ellipse cx="481" cy="160.5" rx="3" ry="4"/><ellipse cx="318.4" cy="319" rx="3.5" ry="2.5"/><ellipse cx="308.4" cy="351.7" rx="2.6" ry="2.6"/><ellipse cx="243.8" cy="272" rx="2.5" ry="1.2"/><ellipse cx="238.8" cy="408" rx="1.5" ry="2.5"/><ellipse cx="239.2" cy="407.5" rx="1.2" ry="2.2"/><ellipse cx="249.2" cy="483.4" rx="2.5" ry="2"/><ellipse cx="182.7" cy="514.3" rx="2" ry="1.5"/><ellipse cx="158.8" cy="572" rx="3" ry="3"/><ellipse cx="128" cy="466.4" rx="5" ry="5"/><ellipse cx="241.2" cy="581.2" rx="1.5" ry="1.5"/><ellipse cx="240.2" cy="587.8" rx="2.2" ry="3"/><ellipse cx="234.6" cy="595.3" rx="2.5" ry="2.5"/><ellipse cx="256.9" cy="610.4" rx="2" ry="2.5"/><ellipse cx="265.3" cy="644" rx="5" ry="2.8"/><ellipse cx="264.3" cy="673" rx="1.5" ry="2.5"/><ellipse cx="253" cy="598.5" rx="2" ry="1.2"/><ellipse cx="586" cy="178" rx="1.5" ry="1.5"/><ellipse cx="431" cy="38" rx="4" ry="3"/><ellipse cx="436" cy="46" rx="5" ry="2.5"/><ellipse cx="441" cy="42" rx="2.5" ry="4"/><ellipse cx="577" cy="183.5" rx="2" ry="1.5"/><ellipse cx="569" cy="186.6" rx="2.5" ry="1.5"/><ellipse cx="151.9" cy="573" rx="3" ry="2.5"/><ellipse cx="350" cy="413" rx="3" ry="3"/><path d="M535 191L545 191L553 188L563 188.5L562.5 191L552 193L545 196L537 197.5Z"/><path d="M287 510.5L292 512L296 516L299 518.5L301 516L298 511L301 510.5L304 516L306 519L303.5 520L300 520.5L296 518.5L291 514Z"/></g>
<g stroke="#000" stroke-width="1" stroke-dasharray="1 5" shape-rendering="crispEdges" fill="none"><line x1="80.5" y1="33" x2="80.5" y2="699" stroke-dashoffset="0"/><line x1="178.5" y1="33" x2="178.5" y2="699" stroke-dashoffset="0"/><line x1="276.5" y1="33" x2="276.5" y2="699" stroke-dashoffset="0"/><line x1="374.5" y1="33" x2="374.5" y2="699" stroke-dashoffset="0"/><line x1="472.5" y1="33" x2="472.5" y2="699" stroke-dashoffset="0"/><line x1="570.5" y1="33" x2="570.5" y2="699" stroke-dashoffset="0"/><line x1="668.5" y1="33" x2="668.5" y2="699" stroke-dashoffset="0"/><line x1="31" y1="74.5" x2="772" y2="74.5" stroke-dashoffset="0"/><line x1="31" y1="162.5" x2="772" y2="162.5" stroke-dashoffset="0"/><line x1="31" y1="251.5" x2="772" y2="251.5" stroke-dashoffset="0"/><line x1="31" y1="339.5" x2="772" y2="339.5" stroke-dashoffset="0"/><line x1="31" y1="427.5" x2="772" y2="427.5" stroke-dashoffset="0"/><line x1="31" y1="516.5" x2="772" y2="516.5" stroke-dashoffset="0"/><line x1="31" y1="604.5" x2="772" y2="604.5" stroke-dashoffset="0"/><line x1="31" y1="693.5" x2="772" y2="693.5" stroke-dashoffset="0"/></g>
<g shape-rendering="crispEdges">
<path d="M20 19H777V704H20Z M25 24V699H772V24Z" fill="#fff" fill-rule="evenodd"/>
<path d="M20.5 19.5H776.5V703.5H20.5Z M24.5 23.5H772.5V699.5H24.5Z" fill="none" stroke="#000" stroke-width="1"/>
<rect x="80" y="19" width="98" height="5" fill="#000"/>
<rect x="80" y="699" width="98" height="5" fill="#000"/>
<rect x="276" y="19" width="98" height="5" fill="#000"/>
<rect x="276" y="699" width="98" height="5" fill="#000"/>
<rect x="472" y="19" width="98" height="5" fill="#000"/>
<rect x="472" y="699" width="98" height="5" fill="#000"/>
<rect x="668" y="19" width="104" height="5" fill="#000"/>
<rect x="668" y="699" width="104" height="5" fill="#000"/>
<rect x="20" y="74" width="5" height="88" fill="#000"/>
<rect x="772" y="74" width="5" height="88" fill="#000"/>
<rect x="20" y="251" width="5" height="88" fill="#000"/>
<rect x="772" y="251" width="5" height="88" fill="#000"/>
<rect x="20" y="427" width="5" height="89" fill="#000"/>
<rect x="772" y="427" width="5" height="89" fill="#000"/>
<rect x="20" y="604" width="5" height="89" fill="#000"/>
<rect x="772" y="604" width="5" height="89" fill="#000"/>
</g>
<g fill="none" stroke="#000" stroke-width="1" shape-rendering="crispEdges" stroke-linecap="square"><path transform="translate(61.60 16.50)" d="M3.78 -10.54L5.04 -11.16L6.93 -13.02L6.93 0.00M15.75 -13.02L22.68 -13.02L18.90 -8.06L20.79 -8.06L22.05 -7.44L22.68 -6.82L23.31 -4.96L23.31 -3.72L22.68 -1.86L21.42 -0.62L19.53 0.00L17.64 0.00L15.75 -0.62L15.12 -1.24L14.49 -2.48M35.28 -11.16L34.65 -12.40L32.76 -13.02L31.50 -13.02L29.61 -12.40L28.35 -10.54L27.72 -7.44L27.72 -4.34L28.35 -1.86L29.61 -0.62L31.50 0.00L32.13 0.00L34.02 -0.62L35.28 -1.86L35.91 -3.72L35.91 -4.34L35.28 -6.20L34.02 -7.44L32.13 -8.06L31.50 -8.06L29.61 -7.44L28.35 -6.20L27.72 -4.34"/><path transform="translate(61.60 715.50)" d="M3.78 -10.54L5.04 -11.16L6.93 -13.02L6.93 0.00M15.75 -13.02L22.68 -13.02L18.90 -8.06L20.79 -8.06L22.05 -7.44L22.68 -6.82L23.31 -4.96L23.31 -3.72L22.68 -1.86L21.42 -0.62L19.53 0.00L17.64 0.00L15.75 -0.62L15.12 -1.24L14.49 -2.48M35.28 -11.16L34.65 -12.40L32.76 -13.02L31.50 -13.02L29.61 -12.40L28.35 -10.54L27.72 -7.44L27.72 -4.34L28.35 -1.86L29.61 -0.62L31.50 0.00L32.13 0.00L34.02 -0.62L35.28 -1.86L35.91 -3.72L35.91 -4.34L35.28 -6.20L34.02 -7.44L32.13 -8.06L31.50 -8.06L29.61 -7.44L28.35 -6.20L27.72 -4.34"/><path transform="translate(158.60 16.50)" d="M3.78 -10.54L5.04 -11.16L6.93 -13.02L6.93 0.00M15.75 -13.02L22.68 -13.02L18.90 -8.06L20.79 -8.06L22.05 -7.44L22.68 -6.82L23.31 -4.96L23.31 -3.72L22.68 -1.86L21.42 -0.62L19.53 0.00L17.64 0.00L15.75 -0.62L15.12 -1.24L14.49 -2.48M30.24 -13.02L28.35 -12.40L27.72 -11.16L27.72 -9.92L28.35 -8.68L29.61 -8.06L32.13 -7.44L34.02 -6.82L35.28 -5.58L35.91 -4.34L35.91 -2.48L35.28 -1.24L34.65 -0.62L32.76 0.00L30.24 0.00L28.35 -0.62L27.72 -1.24L27.09 -2.48L27.09 -4.34L27.72 -5.58L28.98 -6.82L30.87 -7.44L33.39 -8.06L34.65 -8.68L35.28 -9.92L35.28 -11.16L34.65 -12.40L32.76 -13.02L30.24 -13.02"/><path transform="translate(158.60 715.50)" d="M3.78 -10.54L5.04 -11.16L6.93 -13.02L6.93 0.00M15.75 -13.02L22.68 -13.02L18.90 -8.06L20.79 -8.06L22.05 -7.44L22.68 -6.82L23.31 -4.96L23.31 -3.72L22.68 -1.86L21.42 -0.62L19.53 0.00L17.64 0.00L15.75 -0.62L15.12 -1.24L14.49 -2.48M30.24 -13.02L28.35 -12.40L27.72 -11.16L27.72 -9.92L28.35 -8.68L29.61 -8.06L32.13 -7.44L34.02 -6.82L35.28 -5.58L35.91 -4.34L35.91 -2.48L35.28 -1.24L34.65 -0.62L32.76 0.00L30.24 0.00L28.35 -0.62L27.72 -1.24L27.09 -2.48L27.09 -4.34L27.72 -5.58L28.98 -6.82L30.87 -7.44L33.39 -8.06L34.65 -8.68L35.28 -9.92L35.28 -11.16L34.65 -12.40L32.76 -13.02L30.24 -13.02"/><path transform="translate(256.60 16.50)" d="M3.78 -10.54L5.04 -11.16L6.93 -13.02L6.93 0.00M20.79 -13.02L14.49 -4.34L23.94 -4.34M20.79 -13.02L20.79 0.00M30.87 -13.02L28.98 -12.40L27.72 -10.54L27.09 -7.44L27.09 -5.58L27.72 -2.48L28.98 -0.62L30.87 0.00L32.13 0.00L34.02 -0.62L35.28 -2.48L35.91 -5.58L35.91 -7.44L35.28 -10.54L34.02 -12.40L32.13 -13.02L30.87 -13.02"/><path transform="translate(256.60 715.50)" d="M3.78 -10.54L5.04 -11.16L6.93 -13.02L6.93 0.00M20.79 -13.02L14.49 -4.34L23.94 -4.34M20.79 -13.02L20.79 0.00M30.87 -13.02L28.98 -12.40L27.72 -10.54L27.09 -7.44L27.09 -5.58L27.72 -2.48L28.98 -0.62L30.87 0.00L32.13 0.00L34.02 -0.62L35.28 -2.48L35.91 -5.58L35.91 -7.44L35.28 -10.54L34.02 -12.40L32.13 -13.02L30.87 -13.02"/><path transform="translate(354.60 16.50)" d="M3.78 -10.54L5.04 -11.16L6.93 -13.02L6.93 0.00M20.79 -13.02L14.49 -4.34L23.94 -4.34M20.79 -13.02L20.79 0.00M27.72 -9.92L27.72 -10.54L28.35 -11.78L28.98 -12.40L30.24 -13.02L32.76 -13.02L34.02 -12.40L34.65 -11.78L35.28 -10.54L35.28 -9.30L34.65 -8.06L33.39 -6.20L27.09 0.00L35.91 0.00"/><path transform="translate(354.60 715.50)" d="M3.78 -10.54L5.04 -11.16L6.93 -13.02L6.93 0.00M20.79 -13.02L14.49 -4.34L23.94 -4.34M20.79 -13.02L20.79 0.00M27.72 -9.92L27.72 -10.54L28.35 -11.78L28.98 -12.40L30.24 -13.02L32.76 -13.02L34.02 -12.40L34.65 -11.78L35.28 -10.54L35.28 -9.30L34.65 -8.06L33.39 -6.20L27.09 0.00L35.91 0.00"/><path transform="translate(452.60 16.50)" d="M3.78 -10.54L5.04 -11.16L6.93 -13.02L6.93 0.00M20.79 -13.02L14.49 -4.34L23.94 -4.34M20.79 -13.02L20.79 0.00M33.39 -13.02L27.09 -4.34L36.54 -4.34M33.39 -13.02L33.39 0.00"/><path transform="translate(452.60 715.50)" d="M3.78 -10.54L5.04 -11.16L6.93 -13.02L6.93 0.00M20.79 -13.02L14.49 -4.34L23.94 -4.34M20.79 -13.02L20.79 0.00M33.39 -13.02L27.09 -4.34L36.54 -4.34M33.39 -13.02L33.39 0.00"/><path transform="translate(550.60 16.50)" d="M3.78 -10.54L5.04 -11.16L6.93 -13.02L6.93 0.00M20.79 -13.02L14.49 -4.34L23.94 -4.34M20.79 -13.02L20.79 0.00M35.28 -11.16L34.65 -12.40L32.76 -13.02L31.50 -13.02L29.61 -12.40L28.35 -10.54L27.72 -7.44L27.72 -4.34L28.35 -1.86L29.61 -0.62L31.50 0.00L32.13 0.00L34.02 -0.62L35.28 -1.86L35.91 -3.72L35.91 -4.34L35.28 -6.20L34.02 -7.44L32.13 -8.06L31.50 -8.06L29.61 -7.44L28.35 -6.20L27.72 -4.34"/><path transform="translate(550.60 715.50)" d="M3.78 -10.54L5.04 -11.16L6.93 -13.02L6.93 0.00M20.79 -13.02L14.49 -4.34L23.94 -4.34M20.79 -13.02L20.79 0.00M35.28 -11.16L34.65 -12.40L32.76 -13.02L31.50 -13.02L29.61 -12.40L28.35 -10.54L27.72 -7.44L27.72 -4.34L28.35 -1.86L29.61 -0.62L31.50 0.00L32.13 0.00L34.02 -0.62L35.28 -1.86L35.91 -3.72L35.91 -4.34L35.28 -6.20L34.02 -7.44L32.13 -8.06L31.50 -8.06L29.61 -7.44L28.35 -6.20L27.72 -4.34"/><path transform="translate(648.60 16.50)" d="M3.78 -10.54L5.04 -11.16L6.93 -13.02L6.93 0.00M20.79 -13.02L14.49 -4.34L23.94 -4.34M20.79 -13.02L20.79 0.00M30.24 -13.02L28.35 -12.40L27.72 -11.16L27.72 -9.92L28.35 -8.68L29.61 -8.06L32.13 -7.44L34.02 -6.82L35.28 -5.58L35.91 -4.34L35.91 -2.48L35.28 -1.24L34.65 -0.62L32.76 0.00L30.24 0.00L28.35 -0.62L27.72 -1.24L27.09 -2.48L27.09 -4.34L27.72 -5.58L28.98 -6.82L30.87 -7.44L33.39 -8.06L34.65 -8.68L35.28 -9.92L35.28 -11.16L34.65 -12.40L32.76 -13.02L30.24 -13.02"/><path transform="translate(648.60 715.50)" d="M3.78 -10.54L5.04 -11.16L6.93 -13.02L6.93 0.00M20.79 -13.02L14.49 -4.34L23.94 -4.34M20.79 -13.02L20.79 0.00M30.24 -13.02L28.35 -12.40L27.72 -11.16L27.72 -9.92L28.35 -8.68L29.61 -8.06L32.13 -7.44L34.02 -6.82L35.28 -5.58L35.91 -4.34L35.91 -2.48L35.28 -1.24L34.65 -0.62L32.76 0.00L30.24 0.00L28.35 -0.62L27.72 -1.24L27.09 -2.48L27.09 -4.34L27.72 -5.58L28.98 -6.82L30.87 -7.44L33.39 -8.06L34.65 -8.68L35.28 -9.92L35.28 -11.16L34.65 -12.40L32.76 -13.02L30.24 -13.02"/><path transform="translate(17.50 74.50) rotate(-90) translate(-12.60 0)" d="M8.19 -13.02L1.89 -4.34L11.34 -4.34M8.19 -13.02L8.19 0.00M22.68 -11.16L22.05 -12.40L20.16 -13.02L18.90 -13.02L17.01 -12.40L15.75 -10.54L15.12 -7.44L15.12 -4.34L15.75 -1.86L17.01 -0.62L18.90 0.00L19.53 0.00L21.42 -0.62L22.68 -1.86L23.31 -3.72L23.31 -4.34L22.68 -6.20L21.42 -7.44L19.53 -8.06L18.90 -8.06L17.01 -7.44L15.75 -6.20L15.12 -4.34"/><path transform="translate(778.50 74.50) rotate(90) translate(-12.60 0)" d="M8.19 -13.02L1.89 -4.34L11.34 -4.34M8.19 -13.02L8.19 0.00M22.68 -11.16L22.05 -12.40L20.16 -13.02L18.90 -13.02L17.01 -12.40L15.75 -10.54L15.12 -7.44L15.12 -4.34L15.75 -1.86L17.01 -0.62L18.90 0.00L19.53 0.00L21.42 -0.62L22.68 -1.86L23.31 -3.72L23.31 -4.34L22.68 -6.20L21.42 -7.44L19.53 -8.06L18.90 -8.06L17.01 -7.44L15.75 -6.20L15.12 -4.34"/><path transform="translate(17.50 162.50) rotate(-90) translate(-12.60 0)" d="M8.19 -13.02L1.89 -4.34L11.34 -4.34M8.19 -13.02L8.19 0.00M20.79 -13.02L14.49 -4.34L23.94 -4.34M20.79 -13.02L20.79 0.00"/><path transform="translate(778.50 162.50) rotate(90) translate(-12.60 0)" d="M8.19 -13.02L1.89 -4.34L11.34 -4.34M8.19 -13.02L8.19 0.00M20.79 -13.02L14.49 -4.34L23.94 -4.34M20.79 -13.02L20.79 0.00"/><path transform="translate(17.50 251.50) rotate(-90) translate(-12.60 0)" d="M8.19 -13.02L1.89 -4.34L11.34 -4.34M8.19 -13.02L8.19 0.00M15.12 -9.92L15.12 -10.54L15.75 -11.78L16.38 -12.40L17.64 -13.02L20.16 -13.02L21.42 -12.40L22.05 -11.78L22.68 -10.54L22.68 -9.30L22.05 -8.06L20.79 -6.20L14.49 0.00L23.31 0.00"/><path transform="translate(778.50 251.50) rotate(90) translate(-12.60 0)" d="M8.19 -13.02L1.89 -4.34L11.34 -4.34M8.19 -13.02L8.19 0.00M15.12 -9.92L15.12 -10.54L15.75 -11.78L16.38 -12.40L17.64 -13.02L20.16 -13.02L21.42 -12.40L22.05 -11.78L22.68 -10.54L22.68 -9.30L22.05 -8.06L20.79 -6.20L14.49 0.00L23.31 0.00"/><path transform="translate(17.50 339.50) rotate(-90) translate(-12.60 0)" d="M8.19 -13.02L1.89 -4.34L11.34 -4.34M8.19 -13.02L8.19 0.00M18.27 -13.02L16.38 -12.40L15.12 -10.54L14.49 -7.44L14.49 -5.58L15.12 -2.48L16.38 -0.62L18.27 0.00L19.53 0.00L21.42 -0.62L22.68 -2.48L23.31 -5.58L23.31 -7.44L22.68 -10.54L21.42 -12.40L19.53 -13.02L18.27 -13.02"/><path transform="translate(778.50 339.50) rotate(90) translate(-12.60 0)" d="M8.19 -13.02L1.89 -4.34L11.34 -4.34M8.19 -13.02L8.19 0.00M18.27 -13.02L16.38 -12.40L15.12 -10.54L14.49 -7.44L14.49 -5.58L15.12 -2.48L16.38 -0.62L18.27 0.00L19.53 0.00L21.42 -0.62L22.68 -2.48L23.31 -5.58L23.31 -7.44L22.68 -10.54L21.42 -12.40L19.53 -13.02L18.27 -13.02"/><path transform="translate(17.50 427.50) rotate(-90) translate(-12.60 0)" d="M3.15 -13.02L10.08 -13.02L6.30 -8.06L8.19 -8.06L9.45 -7.44L10.08 -6.82L10.71 -4.96L10.71 -3.72L10.08 -1.86L8.82 -0.62L6.93 0.00L5.04 0.00L3.15 -0.62L2.52 -1.24L1.89 -2.48M17.64 -13.02L15.75 -12.40L15.12 -11.16L15.12 -9.92L15.75 -8.68L17.01 -8.06L19.53 -7.44L21.42 -6.82L22.68 -5.58L23.31 -4.34L23.31 -2.48L22.68 -1.24L22.05 -0.62L20.16 0.00L17.64 0.00L15.75 -0.62L15.12 -1.24L14.49 -2.48L14.49 -4.34L15.12 -5.58L16.38 -6.82L18.27 -7.44L20.79 -8.06L22.05 -8.68L22.68 -9.92L22.68 -11.16L22.05 -12.40L20.16 -13.02L17.64 -13.02"/><path transform="translate(778.50 427.50) rotate(90) translate(-12.60 0)" d="M3.15 -13.02L10.08 -13.02L6.30 -8.06L8.19 -8.06L9.45 -7.44L10.08 -6.82L10.71 -4.96L10.71 -3.72L10.08 -1.86L8.82 -0.62L6.93 0.00L5.04 0.00L3.15 -0.62L2.52 -1.24L1.89 -2.48M17.64 -13.02L15.75 -12.40L15.12 -11.16L15.12 -9.92L15.75 -8.68L17.01 -8.06L19.53 -7.44L21.42 -6.82L22.68 -5.58L23.31 -4.34L23.31 -2.48L22.68 -1.24L22.05 -0.62L20.16 0.00L17.64 0.00L15.75 -0.62L15.12 -1.24L14.49 -2.48L14.49 -4.34L15.12 -5.58L16.38 -6.82L18.27 -7.44L20.79 -8.06L22.05 -8.68L22.68 -9.92L22.68 -11.16L22.05 -12.40L20.16 -13.02L17.64 -13.02"/><path transform="translate(17.50 516.50) rotate(-90) translate(-12.60 0)" d="M3.15 -13.02L10.08 -13.02L6.30 -8.06L8.19 -8.06L9.45 -7.44L10.08 -6.82L10.71 -4.96L10.71 -3.72L10.08 -1.86L8.82 -0.62L6.93 0.00L5.04 0.00L3.15 -0.62L2.52 -1.24L1.89 -2.48M22.68 -11.16L22.05 -12.40L20.16 -13.02L18.90 -13.02L17.01 -12.40L15.75 -10.54L15.12 -7.44L15.12 -4.34L15.75 -1.86L17.01 -0.62L18.90 0.00L19.53 0.00L21.42 -0.62L22.68 -1.86L23.31 -3.72L23.31 -4.34L22.68 -6.20L21.42 -7.44L19.53 -8.06L18.90 -8.06L17.01 -7.44L15.75 -6.20L15.12 -4.34"/><path transform="translate(778.50 516.50) rotate(90) translate(-12.60 0)" d="M3.15 -13.02L10.08 -13.02L6.30 -8.06L8.19 -8.06L9.45 -7.44L10.08 -6.82L10.71 -4.96L10.71 -3.72L10.08 -1.86L8.82 -0.62L6.93 0.00L5.04 0.00L3.15 -0.62L2.52 -1.24L1.89 -2.48M22.68 -11.16L22.05 -12.40L20.16 -13.02L18.90 -13.02L17.01 -12.40L15.75 -10.54L15.12 -7.44L15.12 -4.34L15.75 -1.86L17.01 -0.62L18.90 0.00L19.53 0.00L21.42 -0.62L22.68 -1.86L23.31 -3.72L23.31 -4.34L22.68 -6.20L21.42 -7.44L19.53 -8.06L18.90 -8.06L17.01 -7.44L15.75 -6.20L15.12 -4.34"/><path transform="translate(17.50 604.50) rotate(-90) translate(-12.60 0)" d="M3.15 -13.02L10.08 -13.02L6.30 -8.06L8.19 -8.06L9.45 -7.44L10.08 -6.82L10.71 -4.96L10.71 -3.72L10.08 -1.86L8.82 -0.62L6.93 0.00L5.04 0.00L3.15 -0.62L2.52 -1.24L1.89 -2.48M20.79 -13.02L14.49 -4.34L23.94 -4.34M20.79 -13.02L20.79 0.00"/><path transform="translate(778.50 604.50) rotate(90) translate(-12.60 0)" d="M3.15 -13.02L10.08 -13.02L6.30 -8.06L8.19 -8.06L9.45 -7.44L10.08 -6.82L10.71 -4.96L10.71 -3.72L10.08 -1.86L8.82 -0.62L6.93 0.00L5.04 0.00L3.15 -0.62L2.52 -1.24L1.89 -2.48M20.79 -13.02L14.49 -4.34L23.94 -4.34M20.79 -13.02L20.79 0.00"/><path transform="translate(17.50 693.50) rotate(-90) translate(-12.60 0)" d="M3.15 -13.02L10.08 -13.02L6.30 -8.06L8.19 -8.06L9.45 -7.44L10.08 -6.82L10.71 -4.96L10.71 -3.72L10.08 -1.86L8.82 -0.62L6.93 0.00L5.04 0.00L3.15 -0.62L2.52 -1.24L1.89 -2.48M15.12 -9.92L15.12 -10.54L15.75 -11.78L16.38 -12.40L17.64 -13.02L20.16 -13.02L21.42 -12.40L22.05 -11.78L22.68 -10.54L22.68 -9.30L22.05 -8.06L20.79 -6.20L14.49 0.00L23.31 0.00"/><path transform="translate(778.50 693.50) rotate(90) translate(-12.60 0)" d="M3.15 -13.02L10.08 -13.02L6.30 -8.06L8.19 -8.06L9.45 -7.44L10.08 -6.82L10.71 -4.96L10.71 -3.72L10.08 -1.86L8.82 -0.62L6.93 0.00L5.04 0.00L3.15 -0.62L2.52 -1.24L1.89 -2.48M15.12 -9.92L15.12 -10.54L15.75 -11.78L16.38 -12.40L17.64 -13.02L20.16 -13.02L21.42 -12.40L22.05 -11.78L22.68 -10.54L22.68 -9.30L22.05 -8.06L20.79 -6.20L14.49 0.00L23.31 0.00"/><path transform="translate(231.67 740.50)" d="M3.17 -17.22L3.17 0.00M3.17 0.00L12.69 0.00M25.38 -11.48L25.38 0.00M25.38 -9.02L23.79 -10.66L22.20 -11.48L19.82 -11.48L18.24 -10.66L16.65 -9.02L15.86 -6.56L15.86 -4.92L16.65 -2.46L18.24 -0.82L19.82 0.00L22.20 0.00L23.79 -0.82L25.38 -2.46M31.72 -11.48L31.72 0.00M31.72 -8.20L34.10 -10.66L35.69 -11.48L38.06 -11.48L39.65 -10.66L40.44 -8.20L40.44 0.00M55.51 -17.22L55.51 0.00M55.51 -9.02L53.92 -10.66L52.34 -11.48L49.96 -11.48L48.37 -10.66L46.79 -9.02L45.99 -6.56L45.99 -4.92L46.79 -2.46L48.37 -0.82L49.96 0.00L52.34 0.00L53.92 -0.82L55.51 -2.46M84.85 -14.76L83.27 -16.40L80.89 -17.22L77.71 -17.22L75.34 -16.40L73.75 -14.76L73.75 -13.12L74.54 -11.48L75.34 -10.66L76.92 -9.84L81.68 -8.20L83.27 -7.38L84.06 -6.56L84.85 -4.92L84.85 -2.46L83.27 -0.82L80.89 0.00L77.71 0.00L75.34 -0.82L73.75 -2.46M90.40 -11.48L90.40 -3.28L91.20 -0.82L92.78 0.00L95.16 0.00L96.75 -0.82L99.12 -3.28M99.12 -11.48L99.12 0.00M105.47 -11.48L105.47 0.00M105.47 -6.56L106.26 -9.02L107.85 -10.66L109.43 -11.48L111.81 -11.48M120.54 -17.22L118.95 -17.22L117.36 -16.40L116.57 -13.94L116.57 0.00M114.19 -11.48L119.74 -11.48M134.02 -11.48L134.02 0.00M134.02 -9.02L132.43 -10.66L130.84 -11.48L128.47 -11.48L126.88 -10.66L125.29 -9.02L124.50 -6.56L124.50 -4.92L125.29 -2.46L126.88 -0.82L128.47 0.00L130.84 0.00L132.43 -0.82L134.02 -2.46M149.08 -9.02L147.50 -10.66L145.91 -11.48L143.53 -11.48L141.95 -10.66L140.36 -9.02L139.57 -6.56L139.57 -4.92L140.36 -2.46L141.95 -0.82L143.53 0.00L145.91 0.00L147.50 -0.82L149.08 -2.46M153.84 -6.56L163.36 -6.56L163.36 -8.20L162.56 -9.84L161.77 -10.66L160.19 -11.48L157.81 -11.48L156.22 -10.66L154.64 -9.02L153.84 -6.56L153.84 -4.92L154.64 -2.46L156.22 -0.82L157.81 0.00L160.19 0.00L161.77 -0.82L163.36 -2.46M184.77 -17.22L184.77 0.00M179.22 -17.22L190.32 -17.22M193.49 -6.56L203.01 -6.56L203.01 -8.20L202.22 -9.84L201.42 -10.66L199.84 -11.48L197.46 -11.48L195.87 -10.66L194.28 -9.02L193.49 -6.56L193.49 -4.92L194.28 -2.46L195.87 -0.82L197.46 0.00L199.84 0.00L201.42 -0.82L203.01 -2.46M208.56 -11.48L208.56 0.00M208.56 -8.20L210.94 -10.66L212.52 -11.48L214.90 -11.48L216.49 -10.66L217.28 -8.20L217.28 0.00M217.28 -8.20L219.66 -10.66L221.25 -11.48L223.63 -11.48L225.21 -10.66L226.01 -8.20L226.01 0.00M232.35 -11.48L232.35 5.74M232.35 -9.02L233.94 -10.66L235.52 -11.48L237.90 -11.48L239.49 -10.66L241.07 -9.02L241.87 -6.56L241.87 -4.92L241.07 -2.46L239.49 -0.82L237.90 0.00L235.52 0.00L233.94 -0.82L232.35 -2.46M246.62 -6.56L256.14 -6.56L256.14 -8.20L255.35 -9.84L254.55 -10.66L252.97 -11.48L250.59 -11.48L249.00 -10.66L247.42 -9.02L246.62 -6.56L246.62 -4.92L247.42 -2.46L249.00 -0.82L250.59 0.00L252.97 0.00L254.55 -0.82L256.14 -2.46M261.69 -11.48L261.69 0.00M261.69 -6.56L262.48 -9.02L264.07 -10.66L265.66 -11.48L268.03 -11.48M280.72 -11.48L280.72 0.00M280.72 -9.02L279.14 -10.66L277.55 -11.48L275.17 -11.48L273.59 -10.66L272.00 -9.02L271.21 -6.56L271.21 -4.92L272.00 -2.46L273.59 -0.82L275.17 0.00L277.55 0.00L279.14 -0.82L280.72 -2.46M287.86 -17.22L287.86 -3.28L288.65 -0.82L290.24 0.00L291.82 0.00M285.48 -11.48L291.03 -11.48M296.58 -11.48L296.58 -3.28L297.38 -0.82L298.96 0.00L301.34 0.00L302.93 -0.82L305.31 -3.28M305.31 -11.48L305.31 0.00M311.65 -11.48L311.65 0.00M311.65 -6.56L312.44 -9.02L314.03 -10.66L315.61 -11.48L317.99 -11.48M321.17 -6.56L330.68 -6.56L330.68 -8.20L329.89 -9.84L329.10 -10.66L327.51 -11.48L325.13 -11.48L323.54 -10.66L321.96 -9.02L321.17 -6.56L321.17 -4.92L321.96 -2.46L323.54 -0.82L325.13 0.00L327.51 0.00L329.10 -0.82L330.68 -2.46"/><path transform="translate(138.21 789.50)" d="M2.52 -5.58L13.86 -5.58M18.90 -9.92L18.90 -10.54L19.53 -11.78L20.16 -12.40L21.42 -13.02L23.94 -13.02L25.20 -12.40L25.83 -11.78L26.46 -10.54L26.46 -9.30L25.83 -8.06L24.57 -6.20L18.27 0.00L27.09 0.00M38.43 -13.02L32.13 -13.02L31.50 -7.44L32.13 -8.06L34.02 -8.68L35.91 -8.68L37.80 -8.06L39.06 -6.82L39.69 -4.96L39.69 -3.72L39.06 -1.86L37.80 -0.62L35.91 0.00L34.02 0.00L32.13 -0.62L31.50 -1.24L30.87 -2.48"/><path transform="translate(311.20 789.50)" d="M5.67 -13.02L3.78 -12.40L2.52 -10.54L1.89 -7.44L1.89 -5.58L2.52 -2.48L3.78 -0.62L5.67 0.00L6.93 0.00L8.82 -0.62L10.08 -2.48L10.71 -5.58L10.71 -7.44L10.08 -10.54L8.82 -12.40L6.93 -13.02L5.67 -13.02"/><path transform="translate(461.90 789.50)" d="M2.52 -9.92L2.52 -10.54L3.15 -11.78L3.78 -12.40L5.04 -13.02L7.56 -13.02L8.82 -12.40L9.45 -11.78L10.08 -10.54L10.08 -9.30L9.45 -8.06L8.19 -6.20L1.89 0.00L10.71 0.00M22.05 -13.02L15.75 -13.02L15.12 -7.44L15.75 -8.06L17.64 -8.68L19.53 -8.68L21.42 -8.06L22.68 -6.82L23.31 -4.96L23.31 -3.72L22.68 -1.86L21.42 -0.62L19.53 0.00L17.64 0.00L15.75 -0.62L15.12 -1.24L14.49 -2.48"/><path transform="translate(612.75 789.50)" d="M9.45 -13.02L3.15 -13.02L2.52 -7.44L3.15 -8.06L5.04 -8.68L6.93 -8.68L8.82 -8.06L10.08 -6.82L10.71 -4.96L10.71 -3.72L10.08 -1.86L8.82 -0.62L6.93 0.00L5.04 0.00L3.15 -0.62L2.52 -1.24L1.89 -2.48M18.27 -13.02L16.38 -12.40L15.12 -10.54L14.49 -7.44L14.49 -5.58L15.12 -2.48L16.38 -0.62L18.27 0.00L19.53 0.00L21.42 -0.62L22.68 -2.48L23.31 -5.58L23.31 -7.44L22.68 -10.54L21.42 -12.40L19.53 -13.02L18.27 -13.02M46.62 -9.92L45.99 -11.16L44.73 -12.40L43.47 -13.02L40.95 -13.02L39.69 -12.40L38.43 -11.16L37.80 -9.92L37.17 -8.06L37.17 -4.96L37.80 -3.10L38.43 -1.86L39.69 -0.62L40.95 0.00L43.47 0.00L44.73 -0.62L45.99 -1.86L46.62 -3.10"/></g>
<g shape-rendering="crispEdges">
<rect x="159" y="747" width="479" height="25" fill="#000"/>
<rect x="160" y="748" width="477" height="23" fill="url(#cb)"/>
<rect x="635" y="748" width="2" height="23" fill="#fff"/>
<rect x="317" y="748" width="1" height="5" fill="#000"/><rect x="317" y="766" width="1" height="5" fill="#000"/>
<rect x="474" y="748" width="1" height="5" fill="#000"/><rect x="474" y="766" width="1" height="5" fill="#000"/>
</g>
</svg></body></html>
